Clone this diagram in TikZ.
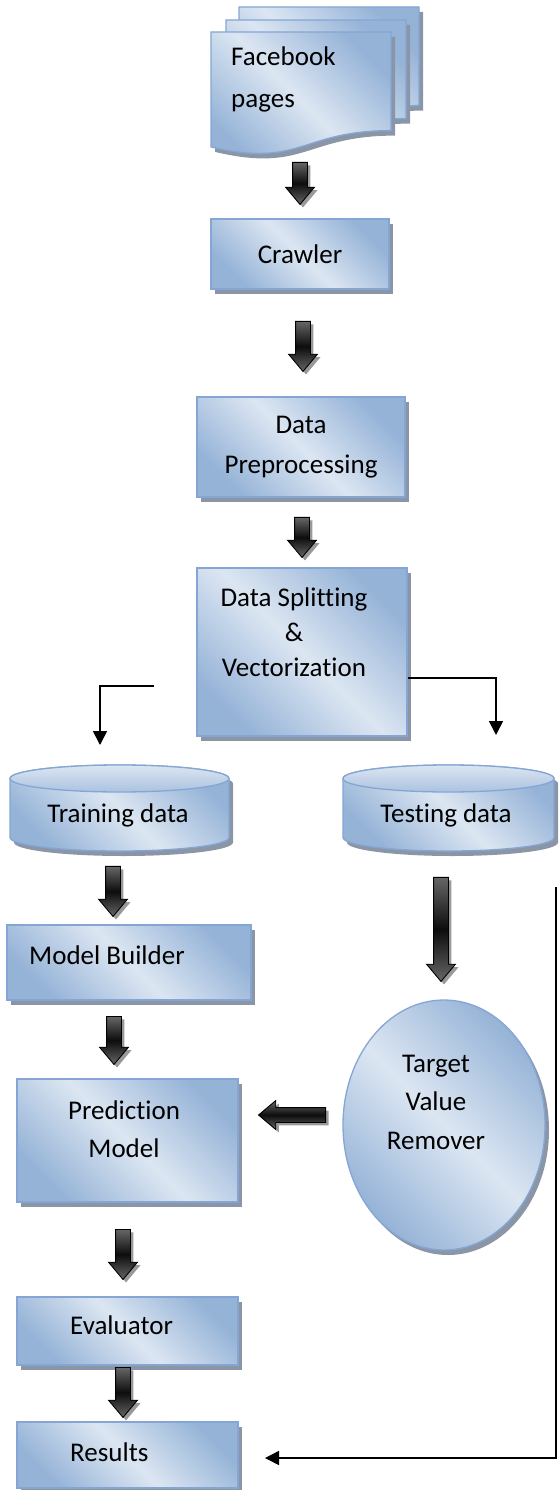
\documentclass[tikz,border=0pt]{standalone}
\usepackage{fontspec}
\setmainfont{Carlito}[Ligatures=NoCommon]
\usetikzlibrary{shapes.geometric,shapes.arrows,arrows.meta,calc}
\definecolor{lightc}{RGB}{220,230,242}
\definecolor{darkc}{RGB}{149,179,215}
\definecolor{bordc}{RGB}{133,166,212}
\definecolor{shadc}{RGB}{138,150,166}
\newcommand{\lab}{\fontsize{27}{40}\selectfont}
\tikzset{
  boxfill/.style={draw=bordc, line width=1.3pt, top color=darkc, bottom color=darkc,
    middle color=lightc, shading angle=-45,
    preaction={fill=shadc, transform canvas={shift={(4pt,-5pt)}}}},
  box/.style={rectangle, boxfill, inner sep=0pt, font=\lab},
  txt/.style={font=\lab, inner sep=0pt},
  barrow/.style={single arrow, draw=black, line width=0.9pt, minimum width=28pt,
    single arrow head extend=7pt, single arrow head indent=0pt, single arrow tip angle=80,
    inner xsep=0pt, inner ysep=7pt, top color=black!60, bottom color=black!60, middle color=black!95,
    preaction={fill=black!40, transform canvas={shift={(3pt,-3pt)}}}},
  link/.style={draw=black, line width=1.6pt, -{Triangle[width=14pt,length=14pt]}},
}
\begin{document}
\begin{tikzpicture}[x=1pt,y=1pt]
\useasboundingbox (0,0) rectangle (558,-1490);
% Facebook pages (stacked documents)
\foreach \dx/\dy in {239/-7, 226/-20, 211/-32}{
  \path[boxfill, shift={(\dx,\dy)}] (0,0) -- (180,0) -- (180,-98.6)
    .. controls (90,-98.6) and (90,-136.2) .. (0,-114.9) -- cycle;
}
\node[txt, anchor=west, align=left, font=\fontsize{27}{42}\selectfont] (fb) at (231,-79) {Facebook\\pages};
% boxes
\node[box, minimum width=178pt, minimum height=70pt] (crawler) at (300,-254) {Crawler};
\node[box, minimum width=208pt, minimum height=100pt, align=center] (prep) at (301,-447) {Data\\Preprocessing};
\node[box, minimum width=210pt, minimum height=168pt] (split) at (302,-652) {};
\node[txt, align=center, font=\fontsize{27}{35}\selectfont] (splittxt) at (294,-632) {Data Splitting\\\&\\Vectorization};
% cylinders
\path[boxfill] (10,-778.5) -- (10,-837.5) arc[start angle=180,end angle=360,x radius=109.5pt,y radius=13.5pt]
  -- (229,-778.5) arc[start angle=0,end angle=180,x radius=109.5pt,y radius=13.5pt] -- cycle;
\path[draw=bordc, line width=1.3pt, top color=lightc, bottom color=darkc!70!lightc] (119.5,-778.5) ellipse [x radius=109.5pt, y radius=13.5pt];
\node[txt] (train) at (118,-815) {Training data};
\path[boxfill] (343,-778.5) -- (343,-837.5) arc[start angle=180,end angle=360,x radius=105.5pt,y radius=13.5pt]
  -- (554,-778.5) arc[start angle=0,end angle=180,x radius=105.5pt,y radius=13.5pt] -- cycle;
\path[draw=bordc, line width=1.3pt, top color=lightc, bottom color=darkc!70!lightc] (448.5,-778.5) ellipse [x radius=105.5pt, y radius=13.5pt];
\node[txt] (test) at (446,-815) {Testing data};
% lower boxes
\node[box, minimum width=244pt, minimum height=75pt] (mb) at (129,-962.5) {};
\node[txt, anchor=west] (mbtxt) at (29,-955) {Model Builder};
\node[box, minimum width=221pt, minimum height=123pt] (pm) at (127.5,-1140.5) {};
\node[txt, align=center, font=\fontsize{27}{38}\selectfont] (pmtxt) at (124,-1129) {Prediction\\Model};
\node[box, minimum width=221pt, minimum height=68pt] (ev) at (127.5,-1331) {};
\node[txt, anchor=west] (evtxt) at (70,-1325) {Evaluator};
\node[box, minimum width=221pt, minimum height=66pt] (res) at (127.5,-1455) {};
\node[txt, anchor=west] (restxt) at (70,-1452) {Results};
\node[ellipse, boxfill, minimum width=202pt, minimum height=250pt] (trv) at (444,-1125) {};
\node[txt, align=center, font=\fontsize{27}{38.5}\selectfont] (trvtxt) at (436,-1102) {Target\\Value\\Remover};
% block arrows
\node[barrow, rotate=-90, minimum height=42pt] (a1) at (300,-179) {};
\node[barrow, rotate=-90, minimum height=50pt] (a2) at (303,-342) {};
\node[barrow, rotate=-90, minimum height=40pt] (a3) at (302,-533) {};
\node[barrow, rotate=-90, minimum height=50pt] (a4) at (113,-887) {};
\node[barrow, rotate=-90, minimum height=48pt] (a5) at (114,-1036) {};
\node[barrow, rotate=-90, minimum height=50pt] (a6) at (123,-1250) {};
\node[barrow, rotate=-90, minimum height=50pt] (a7) at (123,-1388) {};
\node[barrow, rotate=-90, minimum height=104pt] (a8) at (441,-925) {};
\node[barrow, rotate=180, minimum height=67pt] (a9) at (296.5,-1115) {};
% connectors
\coordinate (l0) at (154,-686);
\coordinate (l1) at (100,-745);
\draw[link] (l0) -| (l1);
\coordinate (r1) at (496,-735);
\draw[link] ([yshift=-26pt]split.east) -| (r1);
\coordinate (f0) at (556,-887);
\coordinate (f1) at (265,-1458);
\draw[link] (f0) |- (f1);
\end{tikzpicture}
\end{document}
